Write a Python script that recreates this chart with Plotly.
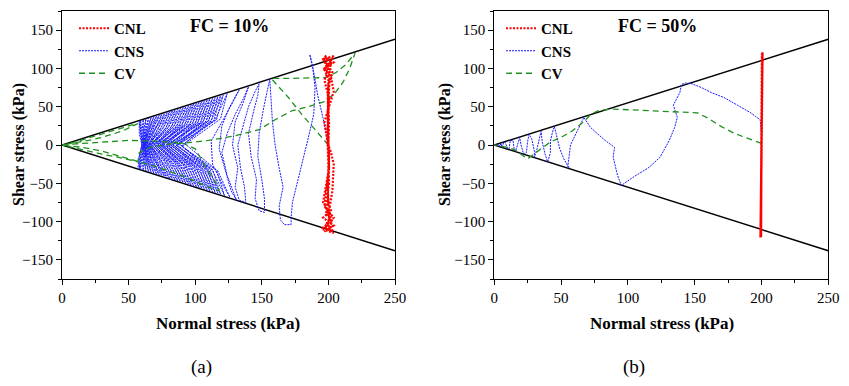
import plotly.graph_objects as go

# ---------------- data ----------------
env_sigma = [0, 250]
env_tau_upper = [0, 138]
env_tau_lower = [0, -138]

# Panel (a) FC = 10%
cnl_a_sigma = [200, 200.5, 199.5, 200, 203, 197, 204, 197, 202, 199,
               197, 200.5, 199.5, 200.5, 199.5, 200, 202, 196, 204, 197,
               203, 199, 198, 200.5, 199.5, 200, 200.5, 201, 196, 204,
               197, 202, 204, 197, 200.5, 199.5, 200, 198, 203, 196,
               204, 198, 202, 196, 200.5, 199.5, 200, 200, 197, 203,
               196, 203, 200, 199.5, 200.5, 197, 204, 196, 203, 200,
               203, 204, 202, 200]
cnl_a_tau = [0, 30, 60, 80, 90, 100, 108, 117, 105, 92,
             85, 60, 20, -20, -60, -78, -85, -95, -105, -113,
             -100, -88, -82, -50, 0, 50, 80, 95, 112, 116,
             98, 88, 70, 30, -10, -50, -80, -90, -100, -110,
             -115, -105, -92, -75, -30, 20, 70, 85, 100, 108,
             113, 95, 80, 40, -30, -80, -95, -108, -112, -90,
             -60, -25, -10, 0]

cns_a_sigma = [200, 199, 196, 192, 189, 186, 188, 190, 189, 185,
               181, 177, 173, 172, 172, 167, 164, 163, 166, 163,
               160, 158, 157, 156, 154, 151, 148, 147, 150, 152,
               152, 148, 145, 146, 142, 140, 144, 147, 148, 145,
               140, 136, 132, 134, 137, 138, 133, 130, 132, 128,
               130, 136, 140, 136, 130, 124, 120, 124, 128, 131,
               127, 123, 118, 120, 126, 133, 128, 120, 112, 113, 120, 126,
               117, 92, 115, 124, 119, 90, 116, 122,
               113, 90, 112, 121, 116, 88, 113, 119,
               110, 88, 110, 119, 114, 86, 111, 117,
               108, 86, 108, 117, 112, 85, 109, 115,
               106, 85, 106, 115, 110, 83, 107, 113,
               104, 83, 104, 113, 108, 82, 105, 111,
               102, 82, 102, 111, 106, 80, 103, 109,
               100, 80, 100, 109, 104, 79, 101, 107,
               98, 79, 98, 107, 102, 78, 99, 105,
               96, 78, 96, 105, 100, 76, 97, 103,
               94, 76, 94, 103, 98, 75, 95, 101,
               92, 75, 92, 101, 96, 74, 93, 99,
               90, 74, 90, 99, 94, 73, 91, 97,
               88, 73, 88, 97, 92, 72, 89, 95,
               86, 72, 86, 95, 90, 71, 87, 93,
               84, 71, 84, 93, 88, 70, 85, 91,
               82, 70, 82, 91, 86, 69, 83, 89,
               80, 69, 80, 89, 84, 68, 81, 87,
               78, 68, 78, 87, 82, 67, 79, 85,
               76, 67, 76, 85, 80, 66, 77, 83,
               74, 66, 74, 83, 78, 66, 75, 81,
               72, 66, 72, 81, 76, 65, 73, 79,
               70, 65, 70, 79, 74, 65, 71, 77,
               69, 64, 69, 77, 72, 64, 70, 75,
               67, 64, 67, 75, 70, 63, 68, 73,
               66, 63, 66, 73, 68, 63, 67, 71,
               65, 63, 65, 71, 67, 62, 65, 69,
               64, 62, 64, 69, 65, 62, 64, 67,
               63, 62, 63, 67, 64, 62, 63, 65,
               62, 62, 62, 65, 63, 61, 62, 63,
               61, 61, 61, 63, 62, 61, 61, 61,
               60, 61, 60, 61, 61, 61, 60, 59,
               59, 61, 59, 59, 60, 60, 59, 58,
               58, 60, 58, 58, 59, 60, 58, 57]
cns_a_tau = [0, 10, 35, 65, 95, 118, 105, 75, 40, 10,
             -18, -45, -75, -95, -104, -104, -98, -80, -55, -30,
             0, 30, 60, 86, 70, 45, 15, -15, -45, -70,
             -88, -86, -70, -45, -15, 15, 45, 65, 80, 70,
             50, 25, 0, -30, -55, -75, -72, -55, -30, 0,
             30, 55, 76, 60, 40, 15, -10, -40, -60, -72,
             -60, -35, -5, 25, 50, 72, 55, 30, 5, -25, -50, -68,
             -34, 2, 33, 67, 34, -2, -33, -66,
             -33, -1, 32, 65, 33, 1, -32, -64,
             -32, 2, 32, 64, 32, -1, -31, -63,
             -31, 0, 31, 63, 31, 2, -31, -62,
             -31, -2, 31, 62, 31, 0, -30, -61,
             -30, 1, 30, 61, 30, -1, -30, -60,
             -30, 0, 30, 60, 30, 2, -29, -59,
             -29, -1, 29, 59, 29, 0, -29, -58,
             -29, 2, 29, 58, 29, -2, -28, -57,
             -28, 0, 28, 57, 28, 1, -28, -56,
             -28, -1, 28, 56, 28, 0, -27, -55,
             -27, 1, 27, 55, 27, -1, -27, -54,
             -27, 0, 27, 54, 27, 2, -26, -53,
             -26, -2, 26, 52, 26, 0, -26, -51,
             -25, 1, 25, 51, 25, -1, -25, -50,
             -25, 0, 25, 50, 25, 1, -24, -49,
             -24, -1, 24, 49, 24, 0, -24, -48,
             -24, 1, 24, 48, 24, -1, -23, -47,
             -23, 0, 23, 47, 23, 1, -23, -46,
             -23, -1, 23, 46, 23, 0, -22, -45,
             -22, 1, 22, 45, 22, -1, -22, -44,
             -22, 0, 22, 44, 22, 1, -21, -43,
             -21, -1, 21, 42, 21, 0, -21, -41,
             -20, 1, 20, 41, 20, -1, -20, -40,
             -20, 0, 20, 40, 20, 1, -19, -39,
             -19, -1, 19, 39, 19, 0, -19, -38,
             -19, 1, 19, 38, 19, -1, -18, -37,
             -18, 0, 18, 37, 18, 1, -18, -36,
             -18, -1, 18, 36, 18, 0, -17, -35,
             -17, 1, 17, 35, 17, -1, -17, -34,
             -17, 0, 17, 34, 17, 1, -16, -33,
             -16, -1, 16, 33, 16, 0, -16, -32,
             -16, 1, 16, 32, 16, -1, -15, -31,
             -15, 0, 15, 31, 15, 1, -15, -30]

cv_a_sigma = [200, 190, 180, 170, 160, 157, 170, 185, 198, 206, 213, 220,
              216, 211, 205, 198, 185, 173, 160, 148, 130, 110, 95, 80, 66,
              58, 57, 45, 30, 15, 5, 0, 10, 25, 40, 50, 57, 45, 30, 20, 10,
              0, 15, 30, 50, 70, 90, 100, 105, 110, 115, 118, 110, 90, 70,
              50, 30, 15, 0]
cv_a_tau = [0, 20, 40, 62, 82, 87, 87, 88, 88, 95, 105, 120,
            100, 82, 68, 57, 50, 45, 33, 20, 12, 6, 3, 1, -3,
            -10, -22, -17, -12, -6, -2, 0, 4, 12, 20, 25, 28, 18, 10, 6, 3,
            0, 2, 4, 6, 5, 3, -5, -20, -35, -48, -60, -55, -40, -28,
            -18, -8, -3, 0]

# Panel (b) FC = 50%
cnl_b_sigma = [200, 200.5, 199.5, 200.8, 199.2, 200.5, 199.6, 200.7,
               199.4, 200.3, 199.7, 200.6, 199.5, 200.4, 200]
cnl_b_tau = [0, 118, -118, 120, -121, 116, -119, 121,
             -117, 119, -120, 115, -116, 117, 0]

cns_b_sigma = [200, 200, 199, 192, 182, 172, 163, 155, 148, 143,
               140, 139, 134, 137, 135, 131, 124, 116, 104, 95,
               92, 89, 90, 83, 77, 72, 67, 64, 60, 57,
               56, 55, 56, 52, 49, 47, 45, 44, 42, 42,
               40, 38, 36, 35, 34, 32, 30, 30, 28, 26,
               25, 24, 22, 20, 19, 18, 16, 15, 14, 12,
               11, 10, 8, 7, 6, 5, 4, 3, 2, 1, 0]
cns_b_tau = [0, 15, 33, 42, 52, 62, 68, 75, 80, 81,
             79, 69, 52, 36, 23, 6, -16, -29, -42, -53,
             -38, -16, -3, 6, 15, 23, 36, 25, 12, 0,
             -15, -28, -30, -18, -5, 10, 24, 20, 5, -10,
             -22, -12, 3, 18, 10, -5, -16, -8, 8, 14,
             5, -10, -12, 0, 10, 3, -8, -7, 6, 6,
             -5, -5, 4, 3, -3, 2, -2, 1, -1, 0, 0]

cv_b_sigma = [200, 190, 180, 170, 160, 152, 140, 120, 100, 88, 78, 72,
              68, 64, 58, 50, 42, 35, 30, 25, 20, 15, 10, 5, 0]
cv_b_tau = [2, 8, 15, 24, 35, 42, 43, 44, 46, 47, 45, 40,
            32, 26, 18, 10, 4, -5, -12, -18, -12, -6, -3, -1, 0]

panel_labels = ["(a)", "(b)"]
fc_labels = ["FC = 10%", "FC = 50%"]
x_title = "Normal stress (kPa)"
y_title = "Shear stress (kPa)"

# ---------------- styles ----------------
RED = "#ff0000"
BLUE = "#1a1aff"
GREEN = "#1f8f1f"
FONT = "Liberation Serif"
W, H = 833, 370   # page body adds 8 px margin on each side

fig = go.Figure()

panels = [
    ("x", "y", "legend", cnl_a_sigma, cnl_a_tau, cns_a_sigma, cns_a_tau, cv_a_sigma, cv_a_tau),
    ("x2", "y2", "legend2", cnl_b_sigma, cnl_b_tau, cns_b_sigma, cns_b_tau, cv_b_sigma, cv_b_tau),
]

for xa, ya, lg, cnl_x, cnl_y, cns_x, cns_y, cv_x, cv_y in panels:
    for env in (env_tau_upper, env_tau_lower):
        fig.add_trace(go.Scatter(x=env_sigma, y=env, mode="lines",
                                 line=dict(color="black", width=1.5),
                                 showlegend=False, xaxis=xa, yaxis=ya))
    fig.add_trace(go.Scatter(x=cns_x, y=cns_y, mode="lines", name="CNS",
                             line=dict(color=BLUE, width=1, dash="2px,1px"),
                             legend=lg, legendrank=2, xaxis=xa, yaxis=ya))
    fig.add_trace(go.Scatter(x=cv_x, y=cv_y, mode="lines", name="CV",
                             line=dict(color=GREEN, width=1.3, dash="6px,4px"),
                             legend=lg, legendrank=3, xaxis=xa, yaxis=ya))
    fig.add_trace(go.Scatter(x=cnl_x, y=cnl_y, mode="lines", name="CNL",
                             line=dict(color=RED, width=2.2, dash="2px,1.5px"),
                             legend=lg, legendrank=1, xaxis=xa, yaxis=ya))

axis_common = dict(
    showgrid=False, zeroline=False, showline=True, linecolor="black",
    linewidth=1.2, mirror=True, ticks="outside", ticklen=5, tickwidth=1,
    tickcolor="black", tickfont=dict(family=FONT, size=15, color="black"),
    minor=dict(ticks="outside", ticklen=3, tickwidth=1, tickcolor="black", dtick=25),
    automargin=False,
)

ydom = [1 - 271 / H, 1 - 3 / H]
legend_font = dict(family=FONT, size=15, color="black", weight="bold")
fig.update_layout(
    width=W, height=H,
    margin=dict(l=0, r=0, t=0, b=0, autoexpand=False),
    paper_bgcolor="white", plot_bgcolor="white",
    xaxis=dict(domain=[54 / W, 387 / W], range=[0, 250], dtick=50, anchor="y", **axis_common),
    yaxis=dict(domain=ydom, range=[-175, 175], dtick=50, anchor="x", **axis_common),
    xaxis2=dict(domain=[486.3 / W, 820.3 / W], range=[0, 250], dtick=50, anchor="y2", **axis_common),
    yaxis2=dict(domain=ydom, range=[-175, 175], dtick=50, anchor="x2", **axis_common),
    legend=dict(x=66 / W, y=1 - 4 / H, xanchor="left", yanchor="top",
                bgcolor="rgba(0,0,0,0)", tracegroupgap=0, font=legend_font),
    legend2=dict(x=493 / W, y=1 - 4 / H, xanchor="left", yanchor="top",
                 bgcolor="rgba(0,0,0,0)", tracegroupgap=0, font=legend_font),
    showlegend=True,
)

annos = []
for i, (xr, yr) in enumerate([("x", "y"), ("x2", "y2")]):
    annos.append(dict(text=fc_labels[i], x=[126, 122][i], y=155, xref=xr, yref=yr,
                      xanchor="center", yanchor="middle", showarrow=False,
                      font=dict(family=FONT, size=18, color="black", weight="bold")))
    annos.append(dict(text=x_title, x=[220 / W, 653.7 / W][i], y=1 - 315 / H,
                      xref="paper", yref="paper", xanchor="center", yanchor="middle",
                      showarrow=False, font=dict(family=FONT, size=17, color="black", weight="bold")))
    annos.append(dict(text=y_title, x=[11 / W, 437 / W][i], y=1 - 137 / H,
                      xref="paper", yref="paper", xanchor="center", yanchor="middle",
                      textangle=-90, showarrow=False,
                      font=dict(family=FONT, size=16, color="black", weight="bold")))
    annos.append(dict(text=panel_labels[i], x=[193 / W, 626 / W][i], y=1 - 359 / H,
                      xref="paper", yref="paper", xanchor="center", yanchor="middle",
                      showarrow=False, font=dict(family=FONT, size=19, color="black")))
fig.update_layout(annotations=annos)

fig.write_html("out.html")
